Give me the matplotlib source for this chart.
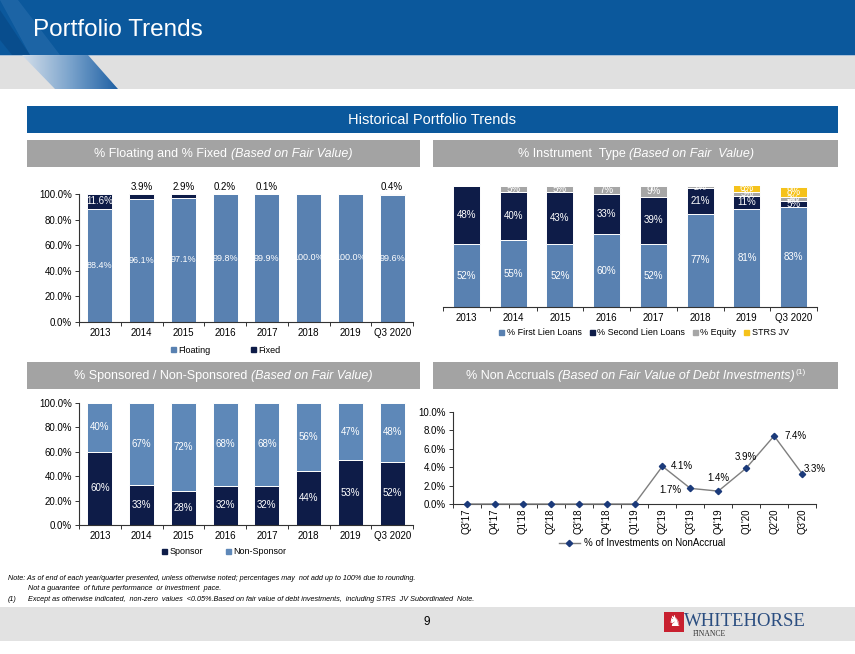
import matplotlib
matplotlib.use('Agg')
import matplotlib.pyplot as plt
from matplotlib.patches import Rectangle, Polygon, Patch
from matplotlib.lines import Line2D
from matplotlib.ticker import FixedLocator, FuncFormatter
from matplotlib.colors import LinearSegmentedColormap
import numpy as np

plt.rcParams['font.family'] = ['Liberation Sans', 'DejaVu Sans']

# ---------------- data ----------------
years = ['2013', '2014', '2015', '2016', '2017', '2018', '2019', 'Q3 2020']
floating = [88.4, 96.1, 97.1, 99.8, 99.9, 100.0, 100.0, 99.6]
fixed = [11.6, 3.9, 2.9, 0.2, 0.1, 0.0, 0.0, 0.4]

first_lien = [52, 55, 52, 60, 52, 77, 81, 83]
second_lien = [48, 40, 43, 33, 39, 21, 11, 5]
equity = [0, 5, 5, 7, 9, 2, 3, 3]
strs_jv = [0, 0, 0, 0, 0, 0, 6, 8]

sponsor = [60, 33, 28, 32, 32, 44, 53, 52]
non_sponsor = [40, 67, 72, 68, 68, 56, 47, 48]

quarters = ["Q3'17", "Q4'17", "Q1'18", "Q2'18", "Q3'18", "Q4'18", "Q1'19",
            "Q2'19", "Q3'19", "Q4'19", "Q1'20", "Q2'20", "Q3'20"]
nonaccrual = [0, 0, 0, 0, 0, 0, 0, 4.1, 1.7, 1.4, 3.9, 7.4, 3.3]

# ---------------- style ----------------
C_FLOAT = '#5981B1'
C_NAVY = '#0E1C48'
C_GREY = '#A6A6A6'
C_YELLOW = '#F5C21B'
C_NONSP = '#5E88B8'
C_HEAD = '#0B589C'
C_SUB = '#A3A3A3'
AX_COL = '#333333'

W, H = 855, 654
fig = plt.figure(figsize=(W / 100, H / 100), dpi=100)

bg = fig.add_axes([0, 0, 1, 1], zorder=-1)
bg.set_xlim(0, W)
bg.set_ylim(H, 0)
bg.axis('off')


def box(x0, y0, x1, y1, color, z=0):
    bg.add_patch(Rectangle((x0, y0), x1 - x0, y1 - y0, color=color, lw=0, zorder=z))


# header
box(0, 0, W, 55, C_HEAD)
box(0, 55, W, 89, '#E0E0E0')
box(0, 54.5, W, 56, '#A9C0D8', z=1)
# decorative stripe
stripe = Polygon([(22, 55), (88, 55), (118, 89), (55, 89)], closed=True,
                 facecolor='none', edgecolor='none')
bg.add_patch(stripe)
grad = np.linspace(0, 1, 100).reshape(1, -1)
cm = LinearSegmentedColormap.from_list('s', ['#D3DEEA', '#7AA3CC', '#1D5FA3'])
im = bg.imshow(grad, extent=(22, 118, 89, 55), cmap=cm, aspect='auto', zorder=2)
im.set_clip_path(stripe)
light = Polygon([(0, 0), (18, 0), (60, 55), (30, 55)], closed=True,
                facecolor='#3E7DB8', edgecolor='none', zorder=1, alpha=0.35)
bg.add_patch(light)
light2 = Polygon([(0, 10), (0, 40), (12, 55), (30, 55)], closed=True,
                 facecolor='#06447F', edgecolor='none', zorder=1, alpha=0.5)
bg.add_patch(light2)
bg.text(33, 30, 'Portfolio Trends', color='white', fontsize=17.5, va='center', ha='left', zorder=3)

# section bar
box(27, 106, 838, 133, C_HEAD)
bg.text(432, 120, 'Historical Portfolio Trends', color='white', fontsize=10.5,
        ha='center', va='center')

# sub headers
box(27, 140, 420, 167, C_SUB)
box(433, 140, 838, 167, C_SUB)
box(27, 362, 420, 389, C_SUB)
box(433, 362, 838, 389, C_SUB)

renderer = fig.canvas.get_renderer()


def rich(parts, xc, y):
    arts = []
    total = 0
    for s, style, fs, dy, gap in parts:
        t = bg.text(0, y + dy, s, color='white', fontsize=fs, fontstyle=style,
                    ha='left', va='center')
        w = t.get_window_extent(renderer).width
        arts.append((t, w, gap))
        total += w + gap
    x = xc - total / 2
    for t, w, gap in arts:
        t.set_x(x)
        x += w + gap


rich([('% Floating and % Fixed', 'normal', 9, 0, 3.5),
      ('(Based on Fair Value)', 'italic', 9, 0, 0)], 223, 154)
rich([('% Instrument  Type', 'normal', 9, 0, 3.5),
      ('(Based on Fair  Value)', 'italic', 9, 0, 0)], 636, 154)
rich([('% Sponsored / Non-Sponsored', 'normal', 9, 0, 3.5),
      ('(Based on Fair Value)', 'italic', 9, 0, 0)], 223, 376)
rich([('% Non Accruals', 'normal', 9, 0, 3.5),
      ('(Based on Fair Value of Debt Investments)', 'italic', 9, 0, 0.5),
      ('(1)', 'normal', 6, -4, 0)], 636, 376)

# notes
nfs = 5.2
bg.text(8, 578, 'Note: As of end of each year/quarter presented, unless otherwise noted; percentages may  not add up to 100% due to rounding.',
        fontsize=nfs, fontstyle='italic', va='center')
bg.text(28, 589, 'Not a guarantee  of future performance  or investment  pace.',
        fontsize=nfs, fontstyle='italic', va='center')
bg.text(8, 599.5, '(1)', fontsize=nfs, fontstyle='italic', va='center')
bg.text(28, 599.5, 'Except as otherwise indicated,  non-zero  values  <0.05%.Based on fair value of debt investments,  including STRS  JV Subordinated  Note.',
        fontsize=nfs, fontstyle='italic', va='center')

# footer
box(0, 607, W, 641, '#E2E2E2')
bg.text(427, 622, '9', fontsize=8.5, ha='center', va='center')
box(664, 612, 684, 632, '#C8202F')
bg.text(674, 622, '\u265E', family='DejaVu Sans', color='white', fontsize=11,
        ha='center', va='center')
bg.text(684, 621.5, 'WHITEHORSE', family=['Liberation Serif', 'DejaVu Serif'],
        color='#2A4D80', fontsize=13.5, ha='left', va='center')
bg.text(693, 634.5, 'FINANCE', family=['Liberation Serif', 'DejaVu Serif'],
        color='#333333', fontsize=5.5, ha='left', va='center')


def axpos(l, t, r, b):
    return [l / W, 1 - b / H, (r - l) / W, (b - t) / H]


def style_axis(ax, n, show_y=True):
    ax.patch.set_alpha(0)
    ax.spines['top'].set_visible(False)
    ax.spines['right'].set_visible(False)
    ax.spines['bottom'].set_color(AX_COL)
    ax.spines['bottom'].set_linewidth(0.8)
    if show_y:
        ax.spines['left'].set_color(AX_COL)
        ax.spines['left'].set_linewidth(0.8)
        ax.tick_params(axis='y', length=3, width=0.7, color=AX_COL, labelsize=7, pad=2)
    else:
        ax.spines['left'].set_visible(False)
        ax.set_yticks([])
    ax.set_xlim(-0.5, n - 0.5)
    ax.set_xticks(np.arange(n))
    ax.xaxis.set_minor_locator(FixedLocator(np.arange(n + 1) - 0.5))
    ax.tick_params(axis='x', which='major', length=0, labelsize=7, pad=4)
    ax.tick_params(axis='x', which='minor', length=3, width=0.7, color=AX_COL)


pct1 = FuncFormatter(lambda v, p: f'{v:.1f}%')
x = np.arange(len(years))
bw = 0.6

# ---------------- chart 1: floating / fixed ----------------
ax1 = fig.add_axes(axpos(79, 194, 413, 322))
ax1.bar(x, floating, bw, color=C_FLOAT, edgecolor='white', linewidth=0.7)
ax1.bar(x, fixed, bw, bottom=floating, color=C_NAVY, edgecolor='white', linewidth=0.7)
ax1.set_ylim(0, 100)
ax1.set_yticks(np.arange(0, 101, 20))
ax1.yaxis.set_major_formatter(pct1)
style_axis(ax1, len(years))
ax1.set_xticklabels(years)
for i in range(len(years)):
    ax1.text(x[i], floating[i] / 2, f'{floating[i]:.1f}%', color='white',
             fontsize=6.5, ha='center', va='center')
    if fixed[i] > 5:
        ax1.text(x[i], floating[i] + fixed[i] / 2, f'{fixed[i]:.1f}%', color='white',
                 fontsize=7, ha='center', va='center')
    elif fixed[i] > 0:
        ax1.annotate(f'{fixed[i]:.1f}%', (x[i], 100), xytext=(0, 2),
                     textcoords='offset pixels', fontsize=7, ha='center', va='bottom',
                     annotation_clip=False)
fig.legend([Patch(color=C_FLOAT), Patch(color=C_NAVY)], ['Floating', 'Fixed'],
           loc='center', bbox_to_anchor=(226 / W, 1 - 350 / H), ncol=2, frameon=False,
           fontsize=6.5, handlelength=0.55, handleheight=0.55, handletextpad=0.25,
           columnspacing=4.5)

# ---------------- chart 2: instrument type ----------------
ax2 = fig.add_axes(axpos(443, 186, 817, 307))
b = np.zeros(len(years))
series2 = [(first_lien, C_FLOAT), (second_lien, C_NAVY), (equity, C_GREY), (strs_jv, C_YELLOW)]
for vals, col in series2:
    vals = np.array(vals, dtype=float)
    ax2.bar(x, vals, 0.58, bottom=b, color=col, edgecolor='white', linewidth=0.7)
    for i, v in enumerate(vals):
        if v > 0:
            ax2.text(x[i], b[i] + v / 2, f'{v:.0f}%', color='white',
                     fontsize=7 if v >= 5 else 6.5, ha='center', va='center')
    b += vals
ax2.set_ylim(0, 100)
style_axis(ax2, len(years), show_y=False)
ax2.set_xticklabels(years)
fig.legend([Patch(color=C_FLOAT), Patch(color=C_NAVY), Patch(color=C_GREY), Patch(color=C_YELLOW)],
           ['% First Lien Loans', '% Second Lien Loans', '% Equity', 'STRS JV'],
           loc='center', bbox_to_anchor=(644 / W, 1 - 333 / H), ncol=4, frameon=False,
           fontsize=6.5, handlelength=0.55, handleheight=0.55, handletextpad=0.25,
           columnspacing=0.9)

# ---------------- chart 3: sponsor ----------------
ax3 = fig.add_axes(axpos(79, 403, 413, 525))
ax3.bar(x, sponsor, bw, color=C_NAVY, edgecolor='white', linewidth=0.7)
ax3.bar(x, non_sponsor, bw, bottom=sponsor, color=C_NONSP, edgecolor='white', linewidth=0.7)
ax3.set_ylim(0, 100)
ax3.set_yticks(np.arange(0, 101, 20))
ax3.yaxis.set_major_formatter(pct1)
style_axis(ax3, len(years))
ax3.set_xticklabels(years)
for i in range(len(years)):
    ax3.text(x[i], sponsor[i] / 2, f'{sponsor[i]}%', color='white', fontsize=7,
             ha='center', va='center')
    ax3.text(x[i], sponsor[i] + non_sponsor[i] / 2, f'{non_sponsor[i]}%', color='white',
             fontsize=7, ha='center', va='center')
fig.legend([Patch(color=C_NAVY), Patch(color=C_NONSP)], ['Sponsor', 'Non-Sponsor'],
           loc='center', bbox_to_anchor=(224 / W, 1 - 552 / H), ncol=2, frameon=False,
           fontsize=6.5, handlelength=0.55, handleheight=0.55, handletextpad=0.25,
           columnspacing=2.5)

# ---------------- chart 4: non accruals ----------------
ax4 = fig.add_axes(axpos(453, 412, 816, 504))
xq = np.arange(len(quarters))
ax4.plot(xq, nonaccrual, color='#7F7F7F', lw=1, marker='D', ms=3.2,
         markerfacecolor='#1B3A7A', markeredgecolor='#1B3A7A', clip_on=False, zorder=3)
ax4.set_ylim(0, 10)
ax4.set_yticks(np.arange(0, 10.1, 2))
ax4.yaxis.set_major_formatter(pct1)
style_axis(ax4, len(quarters))
ax4.set_xticklabels(quarters, rotation=90, fontsize=7)
ax4.tick_params(axis='x', which='major', pad=3)
label_off = {7: (8, 0, 'left'), 8: (-9, -2, 'right'), 9: (0, 13, 'center'),
             10: (0, 11, 'center'), 11: (10, 0, 'left'), 12: (2, 5, 'left')}
for i, (dx, dy, ha) in label_off.items():
    ax4.annotate(f'{nonaccrual[i]:.1f}%', (xq[i], nonaccrual[i]), xytext=(dx, dy),
                 textcoords='offset pixels', fontsize=7, ha=ha, va='center',
                 annotation_clip=False)
fig.legend([Line2D([0], [0], color='#7F7F7F', lw=1, marker='D', ms=3.2,
                   markerfacecolor='#1B3A7A', markeredgecolor='#1B3A7A')],
           ['% of Investments on NonAccrual'], loc='center',
           bbox_to_anchor=(642 / W, 1 - 543 / H), frameon=False, fontsize=7,
           handlelength=2.2, handletextpad=0.4)

fig.savefig('out.png', dpi=100)
